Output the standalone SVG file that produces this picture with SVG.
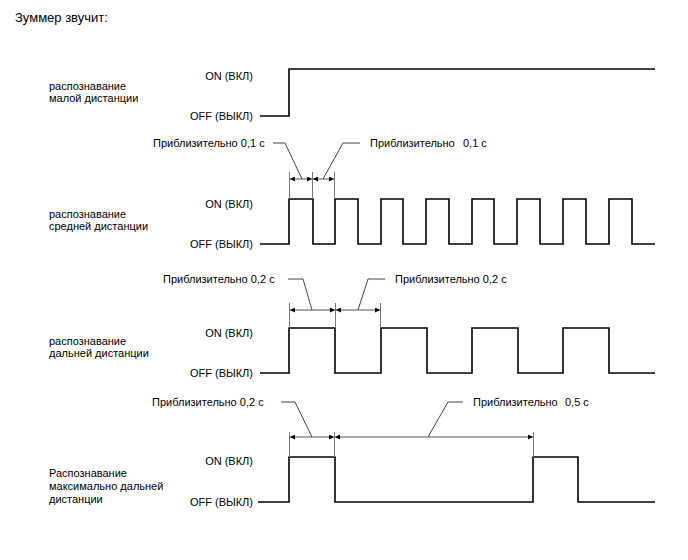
<svg xmlns="http://www.w3.org/2000/svg" width="688" height="560" viewBox="0 0 688 560">
<style>
text{font-family:"Liberation Sans",Arial,sans-serif;font-size:11px;fill:#000}
.t{font-size:13px}
.sig{fill:none;stroke:#000;stroke-width:1.6}
.ext{fill:none;stroke:#777;stroke-width:1}
.dim{fill:none;stroke:#555;stroke-width:1;marker-start:url(#ah);marker-end:url(#ah)}
.ld{fill:none;stroke:#444;stroke-width:1}
.r{text-anchor:end}
</style>
<defs>
<marker id="ah" viewBox="0 0 10 10" refX="10" refY="5" markerWidth="6" markerHeight="5" orient="auto-start-reverse" markerUnits="userSpaceOnUse">
<path d="M0,0 L10,5 L0,10 Z" fill="#000"/>
</marker>
</defs>
<rect width="688" height="560" fill="#fff"/>
<text x="15" y="22" class="t">Зуммер звучит:</text>

<g id="row1">
<text x="49" y="90">распознавание</text>
<text x="49" y="102">малой дистанции</text>
<text x="253" y="80" class="r">ON (ВКЛ)</text>
<text x="253" y="120" class="r">OFF (ВЫКЛ)</text>
<path class="sig" d="M260,116 H289 V69 H655"/>
</g>

<g id="row2">
<text x="49" y="218">распознавание</text>
<text x="49" y="230">средней дистанции</text>
<text x="253" y="208" class="r">ON (ВКЛ)</text>
<text x="253" y="248" class="r">OFF (ВЫКЛ)</text>
<path class="sig" d="M260,244 H289 V199 H313 V244 H335 V199 H358 V244 H381 V199 H403 V244 H426 V199 H449 V244 H472 V199 H494 V244 H517 V199 H540 V244 H563 V199 H586 V244 H609 V199 H632 V244 H655"/>
</g>

<g id="row3">
<text x="49" y="345">распознавание</text>
<text x="49" y="357">дальней дистанции</text>
<text x="253" y="337" class="r">ON (ВКЛ)</text>
<text x="253" y="377" class="r">OFF (ВЫКЛ)</text>
<path class="sig" d="M260,373 H289 V328 H335 V373 H381 V328 H427 V373 H472 V328 H518 V373 H563 V328 H609 V373 H655"/>
</g>

<g id="row4">
<text x="49" y="477">Распознавание</text>
<text x="49" y="490">максимально дальней</text>
<text x="49" y="503">дистанции</text>
<text x="253" y="465" class="r">ON (ВКЛ)</text>
<text x="253" y="506" class="r">OFF (ВЫКЛ)</text>
<path class="sig" d="M258,502 H289 V457 H335 V502 H533 V457 H578 V502 H655"/>
</g>

<g id="label-r2-left">
<text x="153" y="147">Приблизительно 0,1 с</text>
</g>
<g id="label-r2-right">
<text x="370" y="147">Приблизительно</text>
<text x="463" y="147">0,1 с</text>
</g>
<g id="label-r3-left">
<text x="163" y="283">Приблизительно 0,2 с</text>
</g>
<g id="label-r3-right">
<text x="395" y="283">Приблизительно 0,2 с</text>
</g>
<g id="label-r4-left">
<text x="152" y="406">Приблизительно 0,2 с</text>
</g>
<g id="label-r4-right">
<text x="473" y="406">Приблизительно</text>
<text x="565" y="406">0,5 с</text>
</g>

<g id="connectors">
<path class="ext" d="M289.5,172 V199 M312.5,172 V199 M334.5,172 V199"/>
<path class="dim" d="M290,179 H312"/>
<path class="dim" d="M313,179 H334"/>
<path class="ld" d="M273,143 H285 L302,179"/>
<path class="ld" d="M323,179 L343,143 H360"/>

<path class="ext" d="M289.5,303 V328 M335.5,303 V328 M380.5,303 V328"/>
<path class="dim" d="M290,310 H335"/>
<path class="dim" d="M336,310 H380"/>
<path class="ld" d="M288,279 H303 L312,310"/>
<path class="ld" d="M358,310 L368,279 H385"/>

<path class="ext" d="M289.5,432 V457 M334.5,432 V457 M533.5,432 V457"/>
<path class="dim" d="M290,437 H334"/>
<path class="dim" d="M335,437 H533"/>
<path class="ld" d="M281,402 H295 L312,437"/>
<path class="ld" d="M428,437 L448,402 H463"/>
</g>
</svg>
